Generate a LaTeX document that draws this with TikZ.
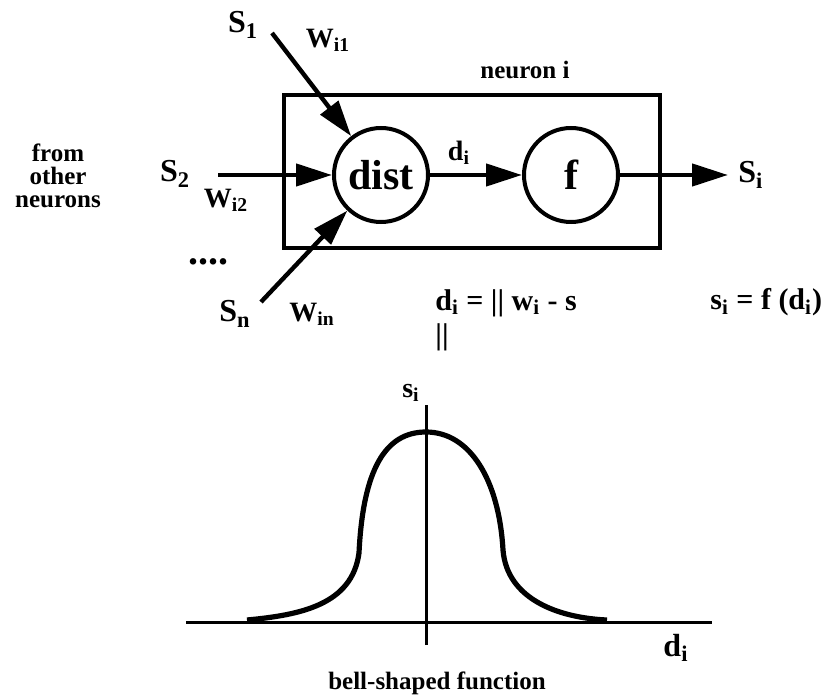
\documentclass[tikz,border=0pt]{standalone}
\usepackage{fontspec}
\setmainfont{Liberation Serif}
\usetikzlibrary{positioning, arrows.meta}

\begin{document}
\begin{tikzpicture}[x=0.5pt, y=-0.5pt, font=\bfseries\fontsize{12.5}{11.5}\selectfont,
  unit/.style={draw, circle, line width=2pt, minimum size=47pt, inner sep=0pt, font=\bfseries\fontsize{21}{21}\selectfont},
  sig/.style={font=\bfseries\fontsize{16}{16}\selectfont, inner sep=1pt},
  wgt/.style={font=\bfseries\fontsize{14}{14}\selectfont, inner sep=1pt},
  eqn/.style={font=\bfseries\fontsize{15}{17}\selectfont, inner sep=1pt, align=left},
  feed/.style={line width=2.2pt, -{Triangle[length=18pt, width=11pt]}}]
  \useasboundingbox (0,0) rectangle (831,700);

  % neuron
  \node[draw, line width=2pt, minimum width=188pt, minimum height=76.5pt] (box) at (472,172) {};
  \node (neur) at (525,70) {neuron i};
  \node[unit] (dist) at (381,175) {dist};
  \node[unit] (f) at (571,175) {f};
  \draw[feed] (dist) -- (f);
  \node[wgt] (di) at (459,153) {d\textsubscript{i}};
  \coordinate (out) at (728,175);
  \draw[feed] (f) -- (out);
  \node[sig, right=4pt of out] (si) {S\textsubscript{i}};

  % inputs
  \node[align=center] (from) at (58,176) {from\\other\\neurons};
  \node[sig] (s1) at (243,25) {S\textsubscript{1}};
  \node[sig] (s2) at (175,174) {S\textsubscript{2}};
  \node[sig] (sn) at (235,314) {S\textsubscript{n}};
  \node[wgt] (w1) at (328,40) {W\textsubscript{i1}};
  \node[wgt] (w2) at (226,200) {W\textsubscript{i2}};
  \node[wgt] (wn) at (312,314) {W\textsubscript{in}};
  \node[font=\bfseries\fontsize{20}{20}\selectfont] (dots) at (208,262) {....};
  \coordinate (in1) at (272,33);
  \coordinate (in2) at (218,175);
  \coordinate (inn) at (261,302);
  \draw[feed] (in1) -- (dist);
  \draw[feed] (in2) -- (dist);
  \draw[feed] (inn) -- (dist);

  % formulas
  \node[eqn, anchor=north west] (deq) at (433,287) {d\textsubscript{i} = || w\textsubscript{i} - s\\||};
  \node[eqn, anchor=west] (seq) at (708,302) {s\textsubscript{i} = f (d\textsubscript{i})};

  % bell curve
  \coordinate (xl) at (186,622);
  \coordinate (xr) at (712,622);
  \coordinate (yb) at (426,645);
  \coordinate (yt) at (426,405);
  \draw[line width=1.5pt] (xl) -- (xr);
  \draw[line width=1.5pt] (yb) -- (yt);
  \draw[line width=2.6pt, line join=round]
    (247,620) .. controls (300,615) and (352,605) .. (359,553)
    .. controls (363,470) and (385,432) .. (426,432)
    .. controls (470,432) and (499,480) .. (503,550)
    .. controls (507,600) and (560,618) .. (607,620);
  \node[wgt] (sy) at (411,393) {s\textsubscript{i}};
  \node[sig] (dx) at (676,648) {d\textsubscript{i}};
  \node (cap) at (437,683) {bell-shaped function};
\end{tikzpicture}
\end{document}
